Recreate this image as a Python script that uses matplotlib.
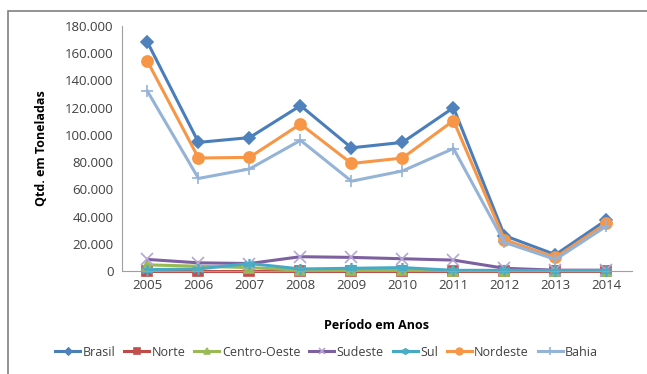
import matplotlib
matplotlib.use("Agg")
import matplotlib.pyplot as plt
from matplotlib.patches import Rectangle
from matplotlib.ticker import FuncFormatter

plt.rcParams['font.family'] = ['Open Sans', 'DejaVu Sans']

anos = [2005, 2006, 2007, 2008, 2009, 2010, 2011, 2012, 2013, 2014]

brasil = [168000, 94500, 98000, 121500, 90500, 94500, 120000, 26000, 12000, 37500]
norte = [300, 300, 300, 300, 300, 300, 300, 300, 300, 300]
centro_oeste = [4500, 3500, 2500, 600, 600, 600, 300, 300, 300, 300]
sudeste = [8500, 6000, 5500, 10500, 10000, 9000, 8000, 2000, 600, 600]
sul = [1000, 1500, 5500, 1500, 2000, 2500, 500, 500, 300, 300]
nordeste = [154000, 83000, 83500, 108000, 79000, 83000, 110500, 23000, 10000, 35000]
bahia = [132000, 68000, 75000, 96000, 66000, 73500, 90000, 21000, 8500, 33000]

series = [
    ('Brasil', brasil, '#4A7EBB', '#4F81BD', 'D', 6),
    ('Norte', norte, '#BE4B48', '#C0504D', 's', 7),
    ('Centro-Oeste', centro_oeste, '#98B954', '#9BBB59', '^', 7),
    ('Sudeste', sudeste, '#7D60A0', '#B4A7D6', 'x', 8),
    ('Sul', sul, '#46AAC5', '#4BACC6', (6, 2, 0), 8),
    ('Nordeste', nordeste, '#F79646', '#F79646', 'o', 8),
    ('Bahia', bahia, '#95B3D7', '#95B3D7', '+', 9),
]

fig = plt.figure(figsize=(6.47, 3.74), dpi=100)
# outer chart frame
fig.patches.append(Rectangle((8 / 647, -0.1), 1.2, 1 - 11 / 374 + 0.1,
                             transform=fig.transFigure, fill=False,
                             edgecolor='#808080', linewidth=1.2))

ax = fig.add_axes([122 / 647, 1 - 271 / 374, 510 / 647, 245 / 374])

for name, vals, lc, mc, mk, ms in series:
    ax.plot(anos, vals, color=lc, linewidth=2.2, marker=mk, markersize=ms,
            markerfacecolor=mc, markeredgecolor=mc, markeredgewidth=1.2,
            label=name, clip_on=False)

ax.set_xlim(2004.5, 2014.5)
ax.set_ylim(0, 180000)
ax.set_xticks(anos)
ax.set_yticks(range(0, 180001, 20000))
ax.yaxis.set_major_formatter(FuncFormatter(lambda v, p: f"{int(v):,}".replace(',', '.')))
ax.tick_params(length=0, labelsize=9.5, colors='#404040', pad=6)
for s in ['top', 'right']:
    ax.spines[s].set_visible(False)
for s in ['left', 'bottom']:
    ax.spines[s].set_color('#A0A0A0')

ax.set_ylabel('Qtd. em Toneladas', fontsize=9, fontweight='bold', labelpad=12)
ax.set_xlabel('Período em Anos', fontsize=9, fontweight='bold', labelpad=19)

fig.legend(loc='center', bbox_to_anchor=(0.505, 1 - 352 / 374), ncol=7,
           frameon=False, fontsize=9, handlelength=2.0, handletextpad=0.2,
           columnspacing=0.7, labelcolor='#404040', markerscale=0.6)

fig.savefig('out.png', dpi=100)
